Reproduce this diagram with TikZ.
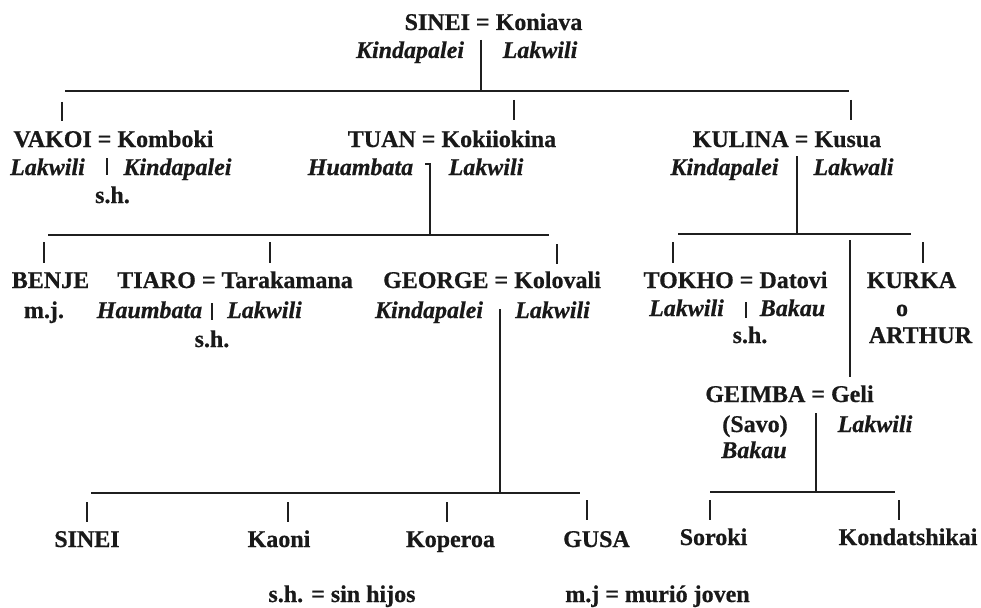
\documentclass[tikz,border=0pt]{standalone}
\usepackage{fontspec}
\setmainfont{Liberation Serif}[BoldFeatures={FakeBold=0.6},BoldItalicFeatures={FakeBold=0.6}]
\begin{document}
\begin{tikzpicture}[x=1pt,y=-1pt,
  nm/.style={inner sep=0pt,anchor=base,font=\fontsize{24}{28}\selectfont\bfseries,text=black!90},
  cl/.style={nm,font=\fontsize{24}{28}\selectfont\bfseries\itshape},
  ln/.style={line width=1.7pt,draw=black!88},
  tk/.style={line width=1.3pt,draw=black!88}]
\useasboundingbox (0,0) rectangle (981,607);
% generation 1
\node[nm] (sinei) at (493.5,30) {SINEI = Koniava};
\node[cl] (s1cl) at (410,58) {Kindapalei};
\node[cl] (k1cl) at (540,58) {Lakwili};
\coordinate (m1) at (481,40);
\coordinate (j1) at (481,91);
\coordinate (b1l) at (65,91);
\coordinate (b1r) at (849,91);
\draw[ln] (m1) -- (j1);
\draw[ln] (b1l) -- (b1r);
\draw[tk] (62,102) coordinate (t1a) -- (62,121) coordinate (t1b);
\draw[tk] (514,100) coordinate (t2a) -- (514,120) coordinate (t2b);
\draw[tk] (851,100) coordinate (t3a) -- (851,120) coordinate (t3b);
% generation 2
\node[nm] (vakoi) at (113.5,147) {VAKOI = Komboki};
\node[cl] (vcl) at (47.5,175) {Lakwili};
\node[cl] (kcl) at (177.5,175) {Kindapalei};
\draw[tk] (107,158) coordinate (vb1) -- (107,175) coordinate (vb2);
\node[nm] (vsh) at (112.5,203) {s.h.};
\node[nm] (tuan) at (452,147) {TUAN = Kokiiokina};
\node[cl] (tcl) at (360.5,175) {Huambata};
\node[cl] (kocl) at (486,175) {Lakwili};
\coordinate (m2h) at (425,164);
\coordinate (m2) at (430,164);
\coordinate (j2) at (430,235);
\draw[ln] (m2h) -- (m2) -- (j2);
\node[nm] (kulina) at (787,147) {KULINA = Kusua};
\node[cl] (kucl) at (724.5,175) {Kindapalei};
\node[cl] (kscl) at (853.5,175) {Lakwali};
\coordinate (m3) at (797,156);
\coordinate (j3) at (797,234);
\draw[ln] (m3) -- (j3);
% generation 3 bars
\coordinate (b2l) at (48,235);
\coordinate (b2r) at (549,235);
\draw[ln] (b2l) -- (b2r);
\coordinate (b3l) at (678,234);
\coordinate (b3r) at (911,234);
\draw[ln] (b3l) -- (b3r);
\draw[tk] (44,242) -- (44,263);
\draw[tk] (270,242) -- (270,263);
\draw[tk] (557,244) -- (557,264);
\draw[tk] (673,242) -- (673,263);
\coordinate (g1) at (850,240);
\coordinate (g2) at (850,377);
\draw[ln] (g1) -- (g2);
\draw[tk] (923,242) -- (923,263);
% generation 3 texts
\node[nm] (benje) at (50.5,288) {BENJE};
\node[nm] (bmj) at (44,318) {m.j.};
\node[nm] (tiaro) at (235,288) {TIARO = Tarakamana};
\node[cl] (ticl) at (149.5,318) {Haumbata};
\draw[tk] (212,303) -- (212,320);
\node[cl] (tacl) at (264.5,318) {Lakwili};
\node[nm] (tsh) at (212,347) {s.h.};
\node[nm] (george) at (492,288) {GEORGE = Kolovali};
\node[cl] (gcl) at (429,318) {Kindapalei};
\node[cl] (kvcl) at (552.5,318) {Lakwili};
\coordinate (m4) at (500,309);
\coordinate (j4) at (500,493);
\draw[ln] (m4) -- (j4);
\node[nm] (tokho) at (735.5,288) {TOKHO = Datovi};
\node[cl] (tkcl) at (686.5,316) {Lakwili};
\draw[tk] (746,302) -- (746,318);
\node[cl] (dcl) at (792.5,316) {Bakau};
\node[nm] (toksh) at (750,343) {s.h.};
\node[nm] (kurka) at (911.5,288) {KURKA};
\node[nm] (kuro) at (902,316) {o};
\node[nm] (arthur) at (920.5,343) {ARTHUR};
% Geimba
\node[nm] (geimba) at (789.5,402) {GEIMBA = Geli};
\node[nm] (savo) at (755,432) {(Savo)};
\node[cl] (gecl) at (754,458) {Bakau};
\node[cl] (glcl) at (875,432) {Lakwili};
\coordinate (m5) at (816,413);
\coordinate (j5) at (816,492);
\draw[ln] (m5) -- (j5);
% generation 4 bars
\coordinate (b4l) at (91,493);
\coordinate (b4r) at (580,493);
\draw[ln] (b4l) -- (b4r);
\coordinate (b5l) at (710,492);
\coordinate (b5r) at (895,492);
\draw[ln] (b5l) -- (b5r);
\draw[tk] (87,502) -- (87,522);
\draw[tk] (288,502) -- (288,522);
\draw[tk] (447,502) -- (447,522);
\draw[tk] (587,500) -- (587,520);
\draw[tk] (710,500) -- (710,520);
\draw[tk] (899,500) -- (899,520);
\node[nm] (sinei2) at (87,547) {SINEI};
\node[nm] (kaoni) at (279,547) {Kaoni};
\node[nm] (koperoa) at (450.5,547) {Koperoa};
\node[nm] (gusa) at (596.5,547) {GUSA};
\node[nm] (soroki) at (713.5,545) {Soroki};
\node[nm] (kondat) at (908,545) {Kondatshikai};
% legend
\node[nm] (leg1) at (342,602) {s.h. = sin hijos};
\node[nm] (leg2) at (657.5,602) {m.j = murió joven};
\end{tikzpicture}
\end{document}
